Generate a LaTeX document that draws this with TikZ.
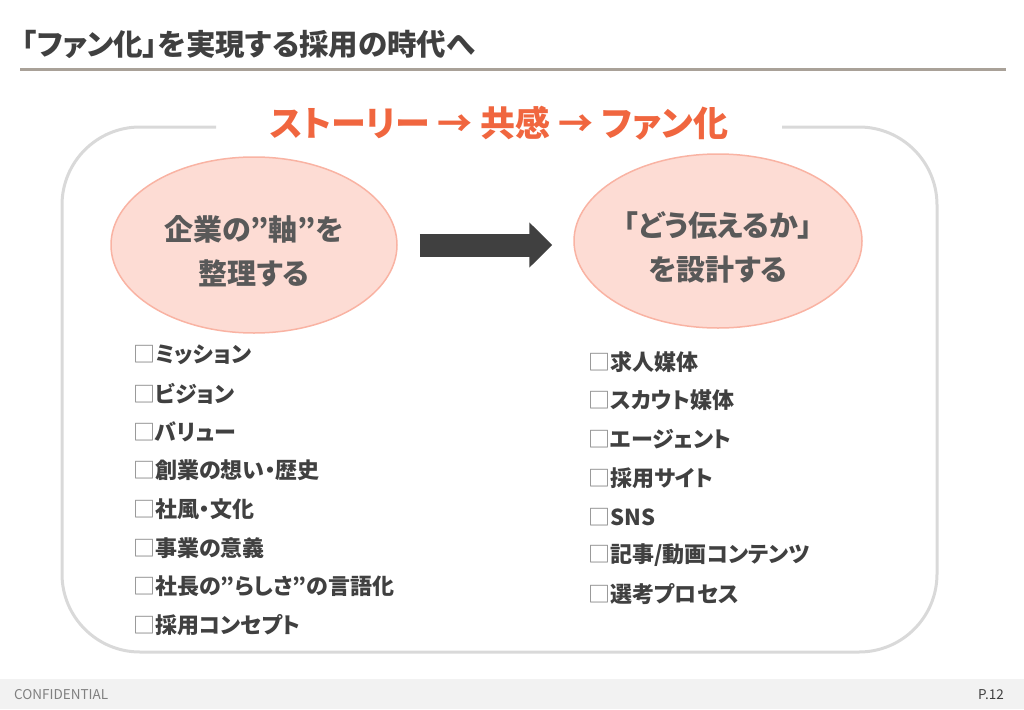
\documentclass[tikz,border=0pt]{standalone}
\usepackage{fontspec}
\setmainfont{Noto Sans CJK JP}[RawFeature=+palt]
\usetikzlibrary{arrows.meta,shapes.geometric}
\definecolor{txt}{HTML}{404040}
\definecolor{ovaltxt}{HTML}{595959}
\definecolor{accent}{HTML}{F0663F}
\definecolor{ovalfill}{HTML}{FDDCD4}
\definecolor{ovalline}{HTML}{F9B3A3}
\definecolor{frame}{HTML}{D9D9D9}
\definecolor{rule}{HTML}{A9A198}
\definecolor{boxgray}{HTML}{808080}
\def\bx{{\mdseries\color{boxgray}□}}
\def\down#1{\raisebox{-6pt}[\height][\depth]{#1}}

\begin{document}
\begin{tikzpicture}[x=1pt, y=-1pt,
    oval/.style={ellipse, draw=ovalline, line width=1.5pt, fill=ovalfill, text=ovaltxt,
        align=center, font=\bfseries\fontsize{29}{44}\selectfont, inner sep=0pt},
    item/.style={anchor=west, inner sep=0pt, text=txt, font=\bfseries\fontsize{22}{24}\selectfont},
    blockarrow/.style={draw=txt, line width=23pt, -{Triangle[width=44pt, length=23pt]}}]
		%%%%% START %%%%%
		\useasboundingbox (0, 0) rectangle (1024, 709);
		
		% title
		\node[anchor=west, inner sep=0pt, text=txt, font=\bfseries\fontsize{29.5}{30}\selectfont] (title) at (22, 44) {「ファン化」を実現する採用の時代へ};
		\fill[rule] (20, 67.5) rectangle (1006, 70.5);
		
		% frame with gap
		\draw[frame, line width=3pt, rounded corners=78pt] (216, 127) -- (62, 127) -- (62, 652) -- (937, 652) -- (937, 127) -- (782, 127);
		\node[text=accent, inner sep=0pt, font=\bfseries\fontsize{35}{36}\selectfont] (story) at (499, 123) {ストーリー → 共感 → ファン化};
		
		% ovals
		\node[oval, minimum width=286pt, minimum height=176pt] (axis) at (254, 245) {\down{企業の”軸”を}\\\down{整理する}};
		\node[oval, minimum width=288pt, minimum height=174pt] (design) at (718, 241) {\down{「どう伝えるか」}\\\down{を設計する}};
		\draw[blockarrow, shorten <=22pt, shorten >=21pt] (axis.east) -- (axis.east -| design.west);
		
		% left list
		\node[item] (l1) at (133, 355) {\bx ミッション};
		\node[item] (l2) at (133, 393.5) {\bx ビジョン};
		\node[item] (l3) at (133, 432) {\bx バリュー};
		\node[item] (l4) at (133, 470.5) {\bx 創業の想い・歴史};
		\node[item] (l5) at (133, 509) {\bx 社風・文化};
		\node[item] (l6) at (133, 548) {\bx 事業の意義};
		\node[item] (l7) at (133, 586.5) {\bx 社長の”らしさ”の言語化};
		\node[item] (l8) at (133, 625) {\bx 採用コンセプト};
		
		% right list
		\node[item] (r1) at (588, 362) {\bx 求人媒体};
		\node[item] (r2) at (588, 400.5) {\bx スカウト媒体};
		\node[item] (r3) at (588, 439) {\bx エージェント};
		\node[item] (r4) at (588, 478) {\bx 採用サイト};
		\node[item] (r5) at (588, 517) {\bx SNS};
		\node[item] (r6) at (588, 555.5) {\bx 記事/動画コンテンツ};
		\node[item] (r7) at (588, 594) {\bx 選考プロセス};
		
		% footer
		\fill[black!5] (0, 679) rectangle (1024, 709);
		\node[anchor=west, inner sep=0pt, text=boxgray, font=\fontsize{13.5}{14}\selectfont] (conf) at (14, 695) {CONFIDENTIAL};
		\node[anchor=east, inner sep=0pt, text=txt, font=\fontsize{13.5}{14}\selectfont] (page) at (1004, 695) {P.12};
		%%%%% END %%%%%
\end{tikzpicture}
\end{document}
